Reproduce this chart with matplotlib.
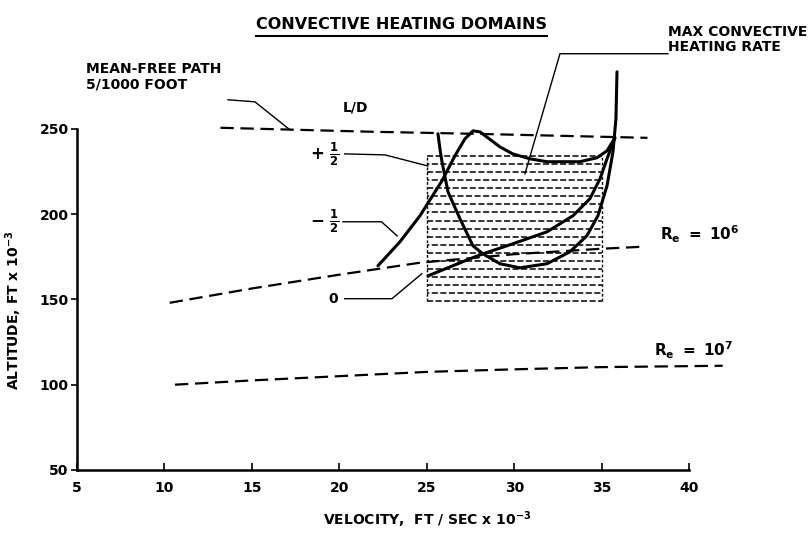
import numpy as np
import matplotlib.pyplot as plt

plt.rcParams['font.family'] = ['DejaVu Sans']
plt.rcParams['font.weight'] = 'bold'
plt.rcParams['axes.labelweight'] = 'bold'
plt.rcParams['mathtext.default'] = 'bf'

# ---- data (velocity ft/sec x 1e-3, altitude ft x 1e-3) ----
mfp_vel = [13.2, 21.7, 28.0, 37.6]
mfp_alt = [250.6, 248.3, 247.0, 244.7]

re6_vel = [10.3, 15.0, 20.0, 24.6, 30.0, 35.0, 37.2]
re6_alt = [148.0, 156.4, 164.5, 171.5, 176.5, 179.7, 180.8]

re7_vel = [10.6, 15.0, 20.0, 25.0, 30.0, 35.0, 41.9]
re7_alt = [100.0, 102.5, 105.0, 107.5, 109.0, 110.3, 111.1]

# L/D = +1/2
plus_vel = [25.63, 25.74, 25.86, 26.2, 26.89, 27.63, 28.2, 29.17, 30.31,
            31.86, 33.17, 34.14, 34.77, 35.29, 35.63, 35.8, 35.86]
plus_alt = [247.1, 238.3, 230.7, 213.1, 197.2, 181.4, 176.7, 170.9, 168.5,
            170.9, 177.9, 187.3, 199.0, 216.6, 236.5, 255.9, 283.4]

# L/D = -1/2
minus_vel = [22.2, 23.46, 24.6, 25.86, 26.6, 27.17, 27.63, 28.03, 29.17,
             29.9, 30.89, 31.86, 33.74, 34.71, 35.29, 35.74]
minus_alt = [169.7, 183.8, 199.0, 219.5, 234.2, 244.1, 248.8, 248.2, 239.4,
             235.3, 232.4, 230.7, 230.7, 233.0, 237.1, 244.7]

# L/D = 0
zero_vel = [25.06, 27.46, 28.2, 29.91, 31.86, 33.34, 34.31, 34.89, 35.29, 35.74]
zero_alt = [163.8, 173.8, 176.7, 182.6, 189.6, 199.0, 209.0, 220.7, 232.4, 244.7]

# shaded domain
box_vel = [25.0, 35.0]
box_alt = [149.0, 234.0]

xticks = [5, 10, 15, 20, 25, 30, 35, 40]
yticks = [50, 100, 150, 200, 250]

fig = plt.figure(figsize=(8.11, 5.37), dpi=100)
ax = fig.add_axes([0.0949, 0.1248, 0.8631, 0.7942])
ax.set_xlim(5, 45)
ax.set_ylim(50, 300)

for s in ['top', 'right']:
    ax.spines[s].set_visible(False)
ax.spines['left'].set_bounds(50, 250)
ax.spines['bottom'].set_bounds(5, 40)
ax.spines['left'].set_linewidth(1.8)
ax.spines['bottom'].set_linewidth(1.8)
ax.set_xticks(xticks)
ax.set_yticks(yticks)
ax.tick_params(axis='x', direction='in', length=5, width=1.2, labelsize=10, pad=8)
ax.tick_params(axis='y', direction='out', length=4, width=1.2, labelsize=10, pad=2)

dash = (0, (6, 3))
ax.plot(mfp_vel, mfp_alt, color='black', lw=1.6, linestyle=dash)
ax.plot(re6_vel, re6_alt, color='black', lw=1.6, linestyle=dash)
ax.plot(re7_vel, re7_alt, color='black', lw=1.6, linestyle=dash)

# hatched rectangle of dashed rows
rows = np.linspace(box_alt[0], box_alt[1], 19)
ax.hlines(rows[0::2], box_vel[0], box_vel[1], colors='black', lw=1.1,
          linestyles=(0, (4, 1.6)))
ax.hlines(rows[1::2], box_vel[0], box_vel[1], colors='black', lw=1.1,
          linestyles=(2.5, (4, 1.6)))
ax.vlines(box_vel, box_alt[0], box_alt[1], colors='black', lw=1.0,
          linestyles=(0, (2, 1.5)))

ax.plot(plus_vel, plus_alt, color='black', lw=2.2, solid_capstyle='round')
ax.plot(minus_vel, minus_alt, color='black', lw=2.2, solid_capstyle='round')
ax.plot(zero_vel, zero_alt, color='black', lw=2.2, solid_capstyle='round')

# leader lines
lead = dict(color='black', lw=1.0)
ax.plot([13.63, 15.17, 17.17], [267.0, 265.8, 249.4], **lead)
ax.plot([20.3, 22.6, 25.06], [235.3, 234.7, 228.2], **lead)
ax.plot([20.2, 22.4, 23.3], [195.5, 195.5, 187.2], **lead)
ax.plot([20.3, 23.0, 24.7], [150.4, 150.4, 165.0], **lead)
ax.plot([38.77, 32.6, 30.6], [294.0, 294.0, 223.6], **lead)

# labels
ax.text(5.5, 272, 'MEAN-FREE PATH\n5/1000 FOOT', fontsize=10, ha='left',
        va='bottom', linespacing=1.1)
ax.text(20.9, 258.5, 'L/D', fontsize=10, ha='center', va='bottom')
ax.text(20.0, 235.3, r'+ $\frac{1}{2}$', fontsize=12, ha='right', va='center')
ax.text(20.0, 195.5, r'$-$ $\frac{1}{2}$', fontsize=12, ha='right', va='center')
ax.text(19.9, 150.4, '0', fontsize=10, ha='right', va='center')
ax.text(38.3, 188, r'$R_e\ =\ 10^6$', fontsize=11, ha='left', va='center')
ax.text(38.0, 120, r'$R_e\ =\ 10^7$', fontsize=11, ha='left', va='center')
ax.text(38.8, 294, 'MAX CONVECTIVE\nHEATING RATE', fontsize=10, ha='left',
        va='bottom', linespacing=1.05)

ax.set_xlabel(r'VELOCITY,  FT / SEC x 10$^{-3}$', fontsize=10, labelpad=10)
ax.set_ylabel(r'ALTITUDE, FT x 10$^{-3}$', fontsize=10)
ax.yaxis.set_label_coords(-0.075, 0.375)

t = fig.text(0.495, 0.955, 'CONVECTIVE HEATING DOMAINS', fontsize=11.5,
             ha='center', va='center')
fig.canvas.draw()
bb = t.get_window_extent().transformed(fig.transFigure.inverted())
fig.add_artist(plt.Line2D([bb.x0, bb.x1], [bb.y0 - 0.008, bb.y0 - 0.008],
                          transform=fig.transFigure, color='black', lw=1.5))

fig.savefig('out.png', dpi=100)
